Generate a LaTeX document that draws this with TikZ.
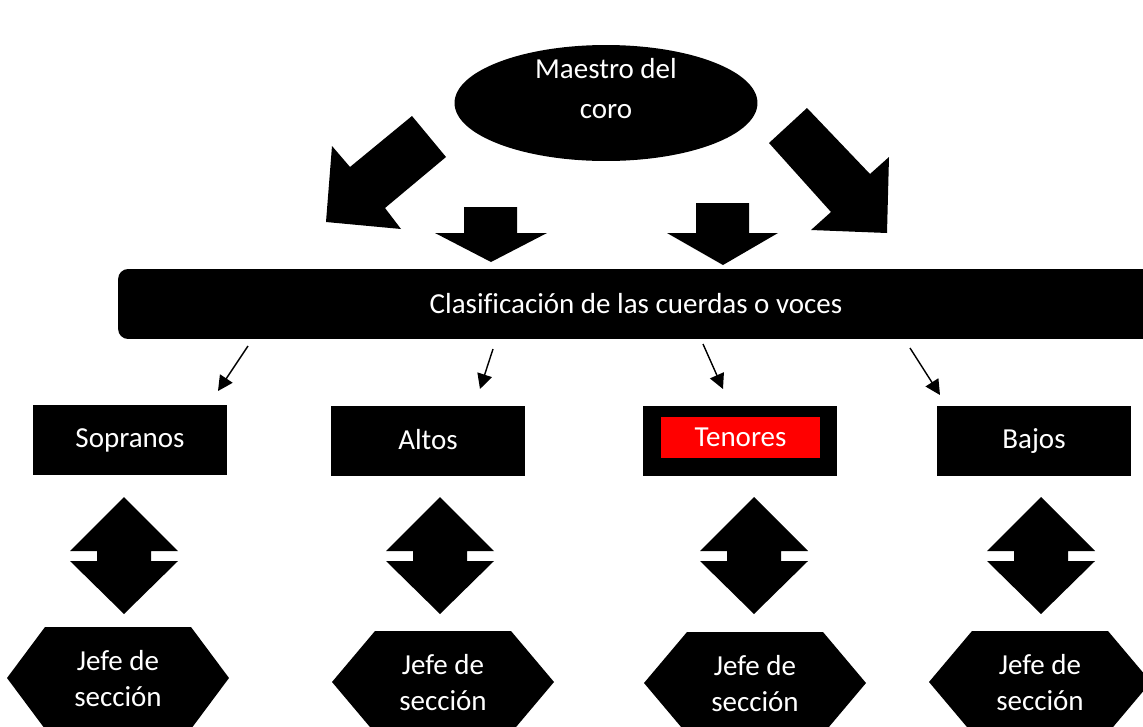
\documentclass[tikz,border=0pt]{standalone}
\usepackage{fontspec}
\setmainfont[Ligatures=NoCommon]{Carlito}
\usetikzlibrary{arrows.meta,shapes.geometric}

\begin{document}
\begin{tikzpicture}[
  x=0.02cm, y=-0.02cm,  % one unit = one pixel of the sheet, y grows downwards
  font=\fontsize{16.5}{20}\selectfont,
  maestro/.style={ellipse, fill=black, inner sep=0pt, minimum width=6.06cm, minimum height=2.32cm},
  barra/.style={fill=black, text=white, rounded corners=0.2cm, minimum width=20.72cm, minimum height=1.4cm},
  caja/.style={fill=black, text=white, inner sep=0pt, minimum width=3.88cm, minimum height=1.42cm},
  jefe/.style={text=white, align=center, inner sep=0pt, font=\fontsize{16.5}{20.5}\selectfont},
  flecha/.style={-{Triangle[length=0.3cm,width=0.3cm]}, line width=0.8pt}
]
\useasboundingbox (0,0) rectangle (1143,727);
\clip (0,0) rectangle (1143,727);

% ---------------- Top: choir master ----------------
\node[maestro] (coro) at (606,103) {};
\node[text=white, align=center, font=\fontsize{16.5}{22.5}\selectfont] (corotxt) at ([yshift=0.29cm]coro.center) {Maestro del\\coro};

% ---------------- Block arrows ----------------
\fill (412,116) -- (446,157) -- (385,208) -- (401,229) -- (326,222) -- (332,146) -- (350,167) -- cycle;
\fill (464,207) -- (517,207) -- (517,233) -- (547,233) -- (491,262) -- (435,233) -- (464,233) -- cycle;
\fill (696,203) -- (749,203) -- (749,233) -- (778,233) -- (723,265) -- (667,233) -- (696,233) -- cycle;
\fill (807,108) -- (870,174) -- (889,157) -- (887,233) -- (811,230) -- (831,212) -- (769,143) -- cycle;

% ---------------- Classification bar ----------------
\node[barra] (clasif) at (636,304) {Clasificación de las cuerdas o voces};

% ---------------- Voice boxes ----------------
\node[caja] (sop) at (130,440) {Sopranos};
\node[caja] (alt) at (428,441) {\raisebox{0.07cm}{Altos}};
\node[caja] (ten) at (740,441) {};
\node[fill=red, text=white, minimum width=3.18cm, minimum height=0.82cm] (tentxt) at (740.5,437.5) {Tenores};
\node[caja] (baj) at (1034,441) {\raisebox{0.03cm}{Bajos}};

% thin arrows (free ends)
\coordinate (s1) at (248,346); \coordinate (e1) at (218,391);
\coordinate (s2) at (493,349); \coordinate (e2) at (480,389);
\coordinate (s3) at (703,344); \coordinate (e3) at (723,389);
\coordinate (s4) at (910,348); \coordinate (e4) at (940,395);
\draw[flecha] (s1) -- (e1);
\draw[flecha] (s2) -- (e2);
\draw[flecha] (s3) -- (e3);
\draw[flecha] (s4) -- (e4);

% ---------------- Up-down arrows ----------------
\foreach \cx in {124,440,754,1041} {
  \fill (\cx,497) -- ({\cx+54},551) -- ({\cx+27},551) -- ({\cx+27},561) -- ({\cx+54},561)
    -- (\cx,614) -- ({\cx-54},561) -- ({\cx-27},561) -- ({\cx-27},551) -- ({\cx-54},551) -- cycle;
}

% ---------------- Section leaders ----------------
\foreach \cx/\cy/\tw/\nm in {118/678/73/j1, 443/682/68/j2, 755/683/68/j3, 1040/682/68/j4} {
  \fill ({\cx-111},\cy) -- ({\cx-\tw},{\cy-51}) -- ({\cx+\tw},{\cy-51}) -- ({\cx+111},\cy)
    -- ({\cx+\tw},{\cy+51}) -- ({\cx-\tw},{\cy+51}) -- cycle;
  \node[jefe] (\nm) at (\cx,{\cy+1}) {Jefe de\\sección};
}

\end{tikzpicture}
\end{document}
